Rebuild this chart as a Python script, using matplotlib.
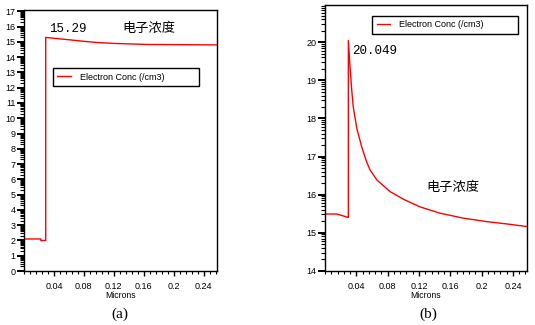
import matplotlib
matplotlib.use("Agg")
import matplotlib.pyplot as plt
import numpy as np
from matplotlib.ticker import FixedLocator, MultipleLocator

plt.rcParams['font.family'] = ['Liberation Sans', 'Noto Sans CJK SC', 'DejaVu Sans']

# (a) log10 electron concentration along the cut
x_a = [0.0, 0.0225, 0.0225, 0.029, 0.029, 0.039, 0.0615, 0.079, 0.097, 0.119, 0.164, 0.258]
y_a = [2.1, 2.1, 2.0, 2.0, 15.29, 15.24, 15.13, 15.04, 14.96, 14.90, 14.83, 14.80]

# (b)
x_b = [0.0, 0.015, 0.0298, 0.0298, 0.0319, 0.0341, 0.0361, 0.0405, 0.0469, 0.0533,
       0.0575, 0.066, 0.083, 0.100, 0.121, 0.147, 0.177, 0.2065, 0.232, 0.258]
y_b = [15.49, 15.49, 15.40, 20.049, 19.37, 18.75, 18.3, 17.75, 17.25, 16.85,
       16.65, 16.39, 16.08, 15.88, 15.68, 15.51, 15.38, 15.29, 15.23, 15.16]

xtick_vals = [0.04, 0.08, 0.12, 0.16, 0.2, 0.24]
xtick_labels = ["0.04", "0.08", "0.12", "0.16", "0.2", "0.24"]
series_label = "Electron Conc (/cm3)"
title_cn = "电子浓度"

fig = plt.figure(figsize=(5.35, 3.25), dpi=100)
ax_a = fig.add_axes([0.0449, 0.166, 0.3607, 0.803])
ax_b = fig.add_axes([0.6075, 0.167, 0.3776, 0.8175])

small = 6.5


def style_axis(ax, ymin, ymax):
    ax.set_xlim(0, 0.258)
    ax.set_ylim(ymin, ymax)
    ax.xaxis.set_major_locator(FixedLocator(xtick_vals))
    ax.set_xticklabels(xtick_labels)
    ax.xaxis.set_minor_locator(MultipleLocator(0.008))
    majors = np.arange(int(np.ceil(ymin)), int(np.floor(ymax)) + 1)
    ax.yaxis.set_major_locator(FixedLocator(majors))
    ax.set_yticklabels([str(m) for m in majors])
    minors = [n + np.log10(k) for n in range(int(ymin), int(ymax) + 1) for k in range(2, 10)]
    ax.yaxis.set_minor_locator(FixedLocator([m for m in minors if ymin < m < ymax]))
    ax.tick_params(axis='x', which='major', direction='out', length=3.5, width=1, pad=4.5, labelsize=small)
    ax.tick_params(axis='x', which='minor', direction='out', length=2.4, width=0.8)
    ax.tick_params(axis='y', which='major', direction='out', length=5, width=1.4, pad=1, labelsize=small)
    ax.tick_params(axis='y', which='minor', direction='out', length=2.6, width=0.8)
    for s in ax.spines.values():
        s.set_linewidth(1)
        s.set_color("black")
    ax.text(0.5, -0.095, "Microns", transform=ax.transAxes, ha='center', va='center', fontsize=small - 0.3)


ax_a.plot(x_a, y_a, color="#ff0000", lw=1, label=series_label)
style_axis(ax_a, 0, 17.08)
ax_a.legend(loc='upper left', bbox_to_anchor=(0.15, 0.701, 0.757, 0.077), mode='expand',
            borderaxespad=0, fancybox=False, edgecolor='black', framealpha=1,
            fontsize=small, handlelength=1.5, handletextpad=1.0, borderpad=0.5)
ax_a.text(0.0334, 15.87, "15.29", family=['Liberation Mono'], fontsize=9, ha='left', va='center')
ax_a.text(0.131, 15.87, title_cn, family=['Noto Sans CJK SC'], fontsize=9.5, ha='left', va='center')

ax_b.plot(x_b, y_b, color="#ff0000", lw=1, label=series_label)
style_axis(ax_b, 14, 20.98)
ax_b.legend(loc='upper left', bbox_to_anchor=(0.233, 0.887, 0.722, 0.072), mode='expand',
            borderaxespad=0, fancybox=False, edgecolor='black', framealpha=1,
            fontsize=small, handlelength=1.5, handletextpad=1.0, borderpad=0.5)
ax_b.text(0.035, 19.76, "20.049", family=['Liberation Mono'], fontsize=9, ha='left', va='center')
ax_b.text(0.13, 16.18, title_cn, family=['Noto Sans CJK SC'], fontsize=9.5, ha='left', va='center')

fig.text(0.224, 0.034, "(a)", family=['Liberation Serif'], fontsize=11, ha='center', va='center')
fig.text(0.80, 0.034, "(b)", family=['Liberation Serif'], fontsize=11, ha='center', va='center')

fig.savefig("out.png", dpi=100)
